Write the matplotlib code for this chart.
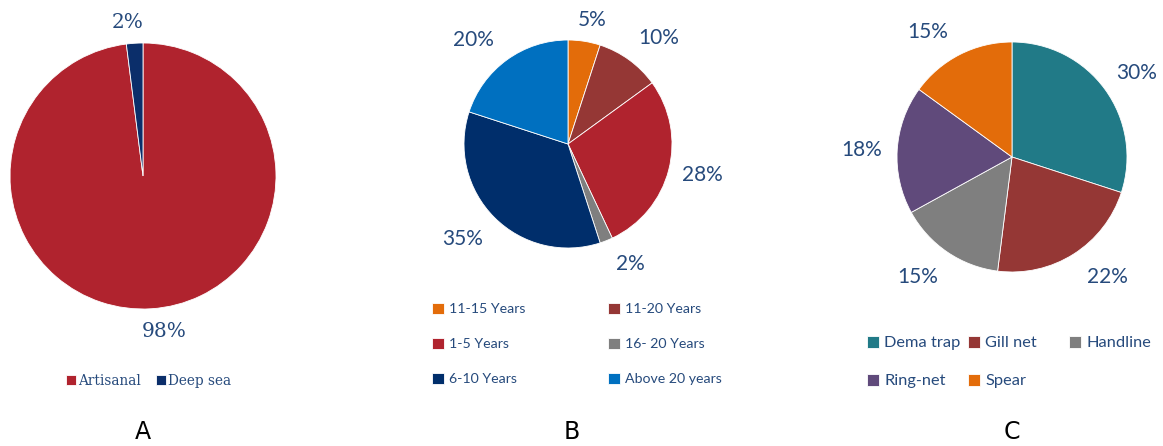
import numpy as np
import matplotlib
matplotlib.use("Agg")
import matplotlib.pyplot as plt

W, H = 1163, 446
TEXT_COLOR = "#264a7c"

# vessel type
vessel_labels = ["Artisanal", "Deep sea"]
vessel_share = [98, 2]
vessel_colors = ["#b0232e", "#0b2e6a"]

# years of fishing experience
exp_labels = ["11-15 Years", "11-20 Years", "1-5 Years", "16- 20 Years", "6-10 Years", "Above 20 years"]
exp_share = [5, 10, 28, 2, 35, 20]
exp_colors = ["#e36c0a", "#953735", "#b0232e", "#7f7f7f", "#002e6b", "#0070c0"]

# fishing gear
gear_labels = ["Dema trap", "Gill net", "Handline", "Ring-net", "Spear"]
gear_share = [30, 22, 15, 18, 15]
gear_colors = ["#217a87", "#953735", "#7f7f7f", "#604a7b", "#e36c0a"]

panel_names = ["A", "B", "C"]


def pie_axes(fig, cx, cy, r):
    # axes box in pixel units, measured from the top-left corner
    ax = fig.add_axes([(cx - r) / W, 1 - (cy + r) / H, 2 * r / W, 2 * r / H])
    ax.set_aspect("equal")
    ax.axis("off")
    return ax


def draw_pie(ax, values, colors, dists, nudges, font, size):
    wedges, _ = ax.pie(values, colors=colors, startangle=90, counterclock=False,
                       radius=1, wedgeprops=dict(edgecolor="white", linewidth=0.6))
    for w, v, d, n in zip(wedges, values, dists, nudges):
        ang = np.deg2rad((w.theta1 + w.theta2) / 2 + n)
        ax.text(d * np.cos(ang), d * np.sin(ang), f"{v}%", ha="center", va="center",
                color=TEXT_COLOR, fontsize=size, family=font)
    ax.set_xlim(-1, 1)
    ax.set_ylim(-1, 1)
    return wedges


def legend_grid(fig, wedges, labels, cells, font, size, marker, pad):
    # one entry per grid cell, (x, y) in pixels from top-left
    for w, lab, (x, y) in zip(wedges, labels, cells):
        fig.legend([w], [lab], loc="center left", bbox_to_anchor=(x / W, 1 - y / H),
                   frameon=False, borderpad=0, borderaxespad=0,
                   handlelength=marker, handleheight=marker, handletextpad=pad,
                   prop=dict(family=font, size=size), labelcolor=TEXT_COLOR)


fig = plt.figure(figsize=(W / 100, H / 100), dpi=100)

# A
ax_a = pie_axes(fig, 143, 176, 133)
wa = draw_pie(ax_a, vessel_share, vessel_colors, [1.18, 1.16], [4, 2], "DejaVu Serif", 14.5)
legend_grid(fig, wa, vessel_labels, [(66, 381), (156, 381)], "DejaVu Serif", 9.8, 0.72, 0.15)

# B
ax_b = pie_axes(fig, 568, 144, 104)
wb = draw_pie(ax_b, exp_share, exp_colors, [1.21, 1.34, 1.33, 1.30, 1.37, 1.35],
              [-2, -4.5, 1.5, 6, -3, 6.5], "Lato", 15)
cells_b = [(432, 309), (608, 309), (432, 344), (608, 344), (432, 379), (608, 379)]
legend_grid(fig, wb, exp_labels, cells_b, "Lato", 10.2, 0.88, 0.3)

# C
ax_c = pie_axes(fig, 1012, 157, 115)
wc = draw_pie(ax_c, gear_share, gear_colors, [1.31, 1.33, 1.33, 1.31, 1.31],
              [-2, 6, -4, 1, 7], "Lato", 15)
cells_c = [(867, 343), (968, 343), (1069, 343), (867, 381), (968, 381)]
legend_grid(fig, wc, gear_labels, cells_c, "Lato", 11.8, 0.76, 0.3)

for name, x in zip(panel_names, [143, 572, 1012]):
    fig.text(x / W, 1 - 432 / H, name, ha="center", va="center", fontsize=17,
             family="DejaVu Sans", color="black")

fig.savefig("out.png", dpi=100, facecolor="white")
